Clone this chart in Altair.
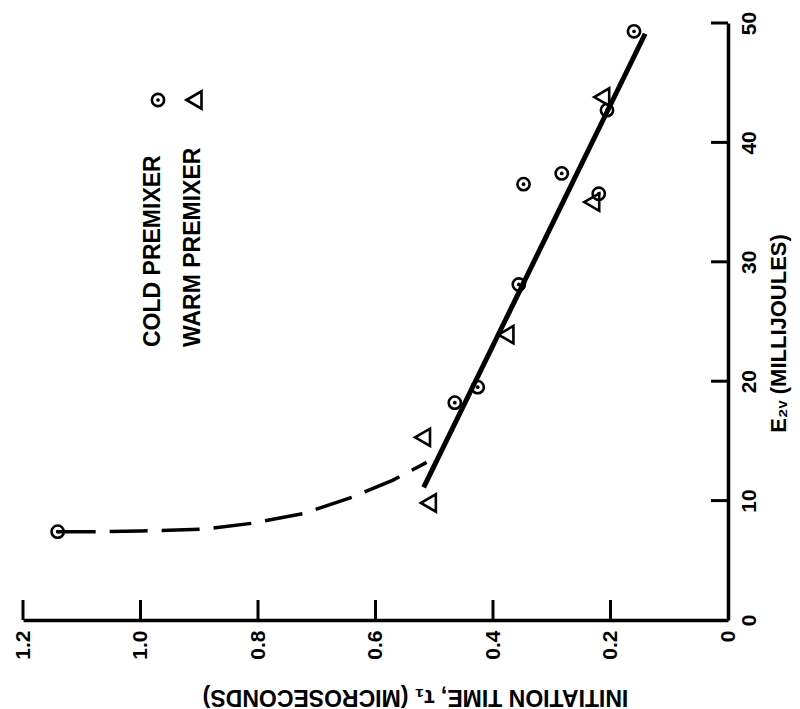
import altair as alt
import pandas as pd

# ---- data ----
cold_E = [7.4, 18.2, 19.5, 28.1, 35.7, 36.5, 37.4, 42.7, 49.3]
cold_t = [1.141, 0.465, 0.426, 0.356, 0.220, 0.348, 0.283, 0.206, 0.160]
warm_E = [9.8, 15.3, 23.9, 35.0, 43.8]
warm_t = [0.510, 0.520, 0.378, 0.232, 0.215]
fit_E = [11.1, 49.1]
fit_t = [0.518, 0.141]
curve_E = [7.4, 7.4, 7.45, 7.6, 8.1, 8.9, 10.3, 11.7, 13.2]
curve_t = [1.141, 1.07, 1.0, 0.895, 0.81, 0.724, 0.639, 0.571, 0.513]
t_axis_values = [0.0, 0.2, 0.4, 0.6, 0.8, 1.0, 1.2]
E_axis_values = [0, 10, 20, 30, 40, 50]
t_tick_marks = [0.2, 0.4, 0.6, 0.8, 1.0, 1.2]
E_tick_marks = [10, 20, 30, 40, 50]
legend_labels = ["COLD PREMIXER", "WARM PREMIXER"]

FONT = "Liberation Sans"
W, H = 705, 597

cold = pd.DataFrame({"t": cold_t, "E": cold_E})
warm = pd.DataFrame({"t": warm_t, "E": warm_E})
fit = pd.DataFrame({"t": fit_t, "E": fit_E})
curve = pd.DataFrame({"t": curve_t, "E": curve_E, "i": list(range(len(curve_t)))})
tt = pd.DataFrame({"t": t_tick_marks})
et = pd.DataFrame({"E": E_tick_marks})
one = pd.DataFrame({"k": [0]})

xscale = alt.Scale(domain=[0, 1.2], reverse=True, nice=False, zero=False)
yscale = alt.Scale(domain=[0, 50], nice=False, zero=False)

xaxis = alt.Axis(
    values=t_axis_values,
    labelExpr="datum.value == 0 ? '0' : format(datum.value, '.1f')",
    labelAngle=270, labelAlign="right", labelBaseline="middle",
    labelPadding=10, labelFontSize=21, labelFont=FONT, labelFontWeight="bold",
    labelColor="black", labelFlush=False, labelOverlap=False,
    ticks=False, tickSize=0, domainColor="black", domainWidth=3.5, grid=False,
    title="INITIATION TIME, τ₁ (MICROSECONDS)", titleAngle=180,
    titleFont=FONT, titleFontSize=23, titleFontWeight="bold", titleColor="black",
    titleX=392, titleY=76, titleAlign="center", titleBaseline="middle",
)
yaxis = alt.Axis(
    orient="right",
    values=E_axis_values,
    labelExpr="format(datum.value, 'd')",
    labelAngle=270, labelAlign="center", labelBaseline="top",
    labelPadding=10, labelFontSize=21, labelFont=FONT, labelFontWeight="bold",
    labelColor="black", labelFlush=False, labelOverlap=False,
    ticks=False, tickSize=0, domainColor="black", domainWidth=3.5, grid=False,
    title="E₂ᵥ (MILLIJOULES)", titleAngle=270,
    titleFont=FONT, titleFontSize=22, titleFontWeight="bold", titleColor="black",
    titleX=50, titleY=310, titleAlign="center", titleBaseline="middle",
)

X = alt.X("t:Q", scale=xscale, axis=xaxis)
Y = alt.Y("E:Q", scale=yscale, axis=yaxis)

fit_line = alt.Chart(fit).mark_line(color="black", strokeWidth=5, strokeCap="butt").encode(x=X, y=Y)
dashed = alt.Chart(curve).mark_line(color="black", strokeWidth=3.5, strokeDash=[38, 14], strokeCap="butt").encode(
    x=X, y=Y, order="i:Q")
cold_pts = alt.Chart(cold).mark_point(shape="circle", filled=False, color="black", strokeWidth=2.6, size=150, opacity=1).encode(x=X, y=Y)
cold_dots = alt.Chart(cold).mark_point(shape="circle", filled=True, color="black", size=14, opacity=1).encode(x=X, y=Y)
warm_pts = alt.Chart(warm).mark_point(shape="triangle-left", filled=False, color="black", strokeWidth=2.6, size=300, opacity=1).encode(x=X, y=Y)

e_ticks = alt.Chart(et).mark_rule(color="black", strokeWidth=3).encode(
    y=Y, x=alt.value(W - 17), x2=alt.value(W))
t_ticks = alt.Chart(tt).mark_rule(color="black", strokeWidth=3).encode(
    x=X, y=alt.value(H - 20), y2=alt.value(H))

leg_cold = alt.Chart(one).mark_text(angle=270, align="left", baseline="middle", fontSize=23, fontWeight="bold", font=FONT, color="black").encode(
    x=alt.value(130), y=alt.value(324), text=alt.value(legend_labels[0]))
leg_warm = alt.Chart(one).mark_text(angle=270, align="left", baseline="middle", fontSize=23, fontWeight="bold", font=FONT, color="black").encode(
    x=alt.value(170), y=alt.value(324), text=alt.value(legend_labels[1]))
leg_circ = alt.Chart(one).mark_point(shape="circle", filled=False, color="black", strokeWidth=2.6, size=150, opacity=1).encode(
    x=alt.value(135), y=alt.value(77))
leg_dot = alt.Chart(one).mark_point(shape="circle", filled=True, color="black", size=14, opacity=1).encode(
    x=alt.value(135), y=alt.value(77))
leg_tri = alt.Chart(one).mark_point(shape="triangle-left", filled=False, color="black", strokeWidth=2.6, size=300, opacity=1).encode(
    x=alt.value(171), y=alt.value(77))

chart = alt.layer(
    fit_line, dashed, cold_pts, cold_dots, warm_pts, e_ticks, t_ticks,
    leg_cold, leg_warm, leg_circ, leg_dot, leg_tri,
).properties(
    width=W, height=H,
    autosize=alt.AutoSizeParams(type="none"),
    padding={"left": 23, "top": 23, "right": 72, "bottom": 89},
    background="white",
).configure_view(stroke=None)

chart.save("out.html", embed_options={"renderer": "svg", "actions": False})
